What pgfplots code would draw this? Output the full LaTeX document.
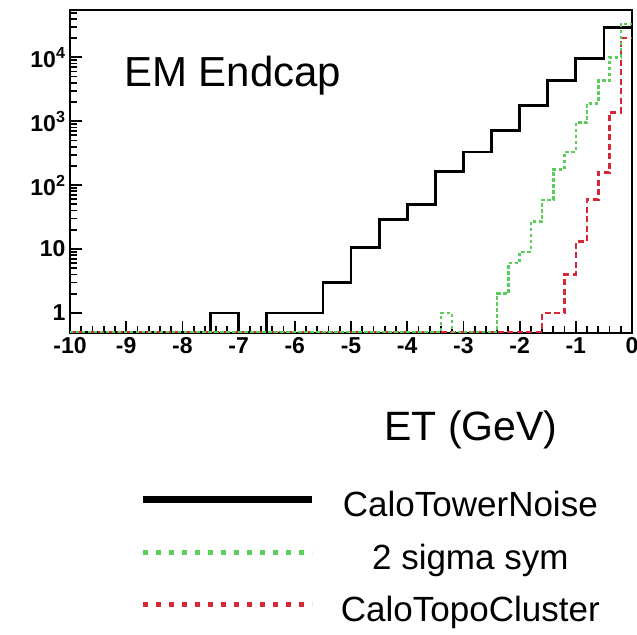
\documentclass[border=0pt]{standalone}
\usepackage{pgfplots}
\pgfplotsset{compat=1.18}
\usepackage{fontspec}
\setmainfont{Liberation Sans}
\definecolor{hgreen}{RGB}{90,205,90}
\definecolor{hred}{RGB}{215,40,55}
\newcommand{\lgstrut}{\rule[-17bp]{0pt}{52.5bp}}
\begin{document}
\begin{tikzpicture}
\path[use as bounding box] (-70bp,-302bp) rectangle (567bp,333bp);
\begin{axis}[
  at={(0,0)}, anchor=south west,
  scale only axis, width=562bp, height=323bp,
  xmin=-10, xmax=0, ymode=log, ymin=0.485, ymax=55000,
  xtick={-10,-9,-8,-7,-6,-5,-4,-3,-2,-1,0},
  minor x tick num=4,
  ytick={1,10,100,1000,10000},
  minor ytick={2,3,4,5,6,7,8,9,20,30,40,50,60,70,80,90,200,300,400,500,600,700,800,900,2000,3000,4000,5000,6000,7000,8000,9000,20000,30000,40000,50000},
  yticklabels={1,10,10\textsuperscript{2},10\textsuperscript{3},10\textsuperscript{4}},
  xtick pos=bottom, ytick pos=left,
  tick align=inside,
  major tick length=12bp, minor tick length=7bp,
  every tick/.style={black, line width=1.8bp},
  axis line style={line width=2.5bp},
  /pgf/number format/assume math mode=true,
  ticklabel style={font=\bfseries\fontsize{23bp}{25bp}\selectfont},
  xticklabel style={yshift=-1bp},
  yticklabel style={xshift=-1bp},
  xlabel={ET (GeV)},
  xlabel style={at={(axis description cs:0.7135,-0.300)}, anchor=center, font=\fontsize{41bp}{48bp}\selectfont},
  clip=true,
  legend style={at={(axis description cs:0.123,-0.458)}, anchor=north west, draw=none, fill=none,
    inner sep=0pt, row sep={52.5bp,between origins}, column sep=0bp,
    font=\fontsize{35bp}{42bp}\selectfont, nodes={inner sep=0pt}},
  legend cell align=left,
]
% black histogram (bin width 0.5)
\addplot[const plot, black, line width=2.8bp, forget plot] coordinates {
(-10,0.5) (-9.5,0.5) (-9,0.5) (-8.5,0.5) (-8,0.5) (-7.5,1) (-7,0.5) (-6.5,1) (-6,1)
(-5.5,3) (-5,10.5) (-4.5,29) (-4,50) (-3.5,163) (-3,330) (-2.5,720) (-2,1750)
(-1.5,4300) (-1,9500) (-0.5,29500) (0,29500)};
% red histogram (bin width 0.2)
\addplot[const plot, hred, line width=2.5bp, dash pattern=on 6bp off 3.5bp, forget plot] coordinates {
(-10,0.5) (-1.6,1) (-1.4,1) (-1.2,4) (-1.0,13) (-0.8,60) (-0.6,157) (-0.4,1370) (-0.2,20000) (0,20000)};
% green histogram (bin width 0.2)
\addplot[const plot, hgreen, line width=2.5bp, dash pattern=on 3.5bp off 2.5bp, forget plot] coordinates {
(-10,0.5) (-3.4,1) (-3.2,0.5) (-2.4,2) (-2.2,6) (-2.0,9) (-1.8,27) (-1.6,59) (-1.4,175)
(-1.2,330) (-1.0,950) (-0.8,1900) (-0.6,4300) (-0.4,10000) (-0.2,33000) (0,33000)};
\addlegendimage{legend image code/.code={\draw[black, line width=7bp] (0bp,0bp) -- (169bp,0bp);}}
\addlegendentry{\makebox[310bp]{\lgstrut CaloTowerNoise}}
\addlegendimage{legend image code/.code={\draw[hgreen, line width=5bp, dash pattern=on 5bp off 8bp] (0bp,0bp) -- (169bp,0bp);}}
\addlegendentry{\makebox[310bp]{\lgstrut 2 sigma sym}}
\addlegendimage{legend image code/.code={\draw[hred, line width=5bp, dash pattern=on 5bp off 8bp] (0bp,0bp) -- (169bp,0bp);}}
\addlegendentry{\makebox[310bp]{\lgstrut CaloTopoCluster}}
\node[anchor=base west, font=\fontsize{42bp}{50bp}\selectfont] at (axis description cs:0.09,0.762) {EM Endcap};
\end{axis}
\end{tikzpicture}
\end{document}
